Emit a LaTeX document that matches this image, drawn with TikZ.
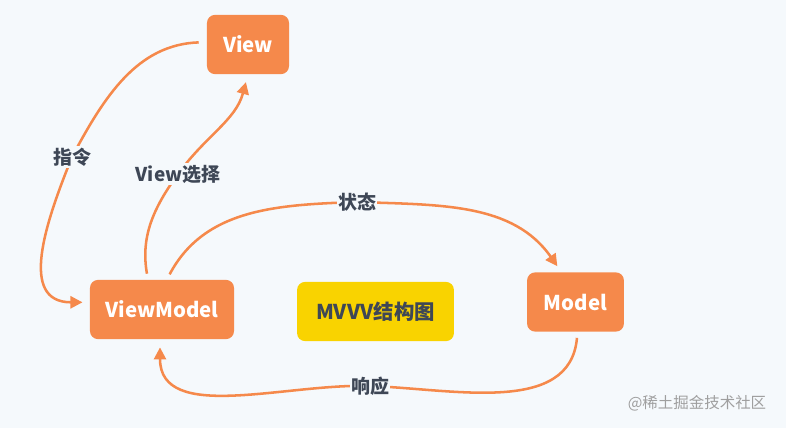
\documentclass[tikz,border=0pt]{standalone}
\usepackage{fontspec}
\setmainfont{Noto Sans CJK SC}
\usetikzlibrary{arrows.meta}
\definecolor{bgblue}{HTML}{F5F9FC}
\definecolor{mvorange}{HTML}{F5894B}
\definecolor{mvyellow}{HTML}{F9D300}
\definecolor{lblgray}{HTML}{3E4756}

\begin{document}
\begin{tikzpicture}[x=0.025cm, y=-0.025cm] %MVVM
    \tikzstyle{mainbox} = [rectangle, rounded corners=0.2cm, minimum height=1.48cm, text centered, align=center, fill=mvorange, text=white, font=\fontsize{14.5}{18}\selectfont\bfseries]
    \tikzstyle{titlebox} = [mainbox, fill=mvyellow, text=lblgray]
    \tikzstyle{link} = [draw=mvorange, line width=1.8pt, -{Triangle[length=0.3cm, width=0.3cm]}]
    \tikzstyle{lbl} = [fill=bgblue, inner sep=1pt, text=lblgray, font=\fontsize{13.5}{16}\selectfont\bfseries]
    \fill[bgblue] (0,0) rectangle (786,428);
    \useasboundingbox (0,0) rectangle (786,428);
    % boxes
    \node[mainbox, minimum width=2.05cm] (View) at (248,44.5) {View};
    \node[mainbox, minimum width=3.6cm] (ViewModel) at (162,309.5) {ViewModel};
    \node[titlebox, minimum width=3.92cm] (Title) at (375.5,311.5) {MVVV结构图};
    \node[mainbox, minimum width=2.42cm] (Model) at (575.5,302) {Model};
    % label positions
    \coordinate (pzhiling) at (72,157);
    \coordinate (pselect) at (178,174);
    \coordinate (pstate) at (357,202);
    \coordinate (presp) at (370,386);
    % connectors
    \draw[link, shorten <=0.2cm, shorten >=0.18cm] ([yshift=0.06cm]View.west) to[out=182, in=62] (pzhiling) to[out=248, in=180, looseness=1.25] ([yshift=0.18cm]ViewModel.west);
    \draw[link, shorten <=0.15cm, shorten >=0.2cm] ([xshift=-0.35cm]ViewModel.north) to[out=100, in=234] (pselect) to[out=54, in=255] (View.south);
    \draw[link, shorten <=0.15cm, shorten >=0.18cm] ([xshift=0.12cm]ViewModel.north) to[out=62, in=182] (pstate) to[out=-2, in=125] ([xshift=-0.35cm]Model.north);
    \draw[link, shorten <=0.15cm, shorten >=0.2cm] ([xshift=0.05cm]Model.south) to[out=-95, in=-2] (presp) to[out=178, in=-90] ([xshift=-0.05cm]ViewModel.south);
    % labels
    \node[lbl] (zhiling) at (pzhiling) {指令};
    \node[lbl] (select) at (pselect) {View选择};
    \node[lbl] (state) at (pstate) {状态};
    \node[lbl] (resp) at (presp) {响应};
    \node[text=gray!75, font=\fontsize{11}{13}\selectfont] (mark) at (697,403) {@稀土掘金技术社区};
\end{tikzpicture}
\end{document}
